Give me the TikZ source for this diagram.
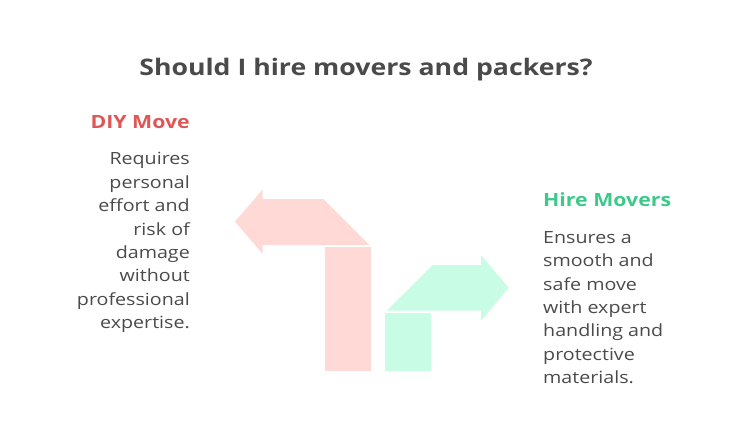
\documentclass[tikz,border=0pt]{standalone}
\usepackage{fontspec}
\setmainfont{Open Sans}[FakeStretch=1.17]
\definecolor{redfill}{HTML}{FFD9D6}
\definecolor{greenfill}{HTML}{C8FCE4}
\definecolor{txt}{HTML}{4A4A4A}
\definecolor{redtxt}{HTML}{E05555}
\definecolor{greentxt}{HTML}{3DC98A}
\begin{document}
\begin{tikzpicture}[x=1pt,y=-1pt,
  body/.style={text=txt,font=\fontsize{16.8}{23.4}\selectfont,inner sep=0pt},
  head/.style={font=\fontsize{18.2}{22}\selectfont\bfseries,inner sep=0pt}]
\useasboundingbox (0,0) rectangle (732,423);
% red arrow
\fill[redfill] (235,221.7) -- (262.7,189.3) -- (262.7,199) -- (323.3,199) -- (369.3,245) -- (262.7,245) -- (262.7,254) -- cycle;
\fill[redfill] (325,246.7) rectangle (371,370.7);
% green arrow
\fill[greenfill] (386.7,310.7) -- (432.7,265) -- (481,265) -- (481,255) -- (508.7,287.8) -- (481,320.7) -- (481,310.7) -- cycle;
\fill[greenfill] (385,312.7) rectangle (431,370.7);
% texts
\node[text=txt,font=\fontsize{22.8}{28}\selectfont\bfseries,inner sep=0pt,anchor=base] (title) at (366,75) {Should I hire movers and packers?};
\node[head,text=redtxt,anchor=base east] (diy) at (190,128.3) {DIY Move};
\node[body,anchor=base east,align=right] (diyt) at (190,328.6) {Requires\\personal\\effort and\\risk of\\damage\\without\\professional\\expertise.};
\node[head,text=greentxt,anchor=base west] (hire) at (543,206.7) {Hire Movers};
\node[body,anchor=base west,align=left] (hiret) at (543,383.7) {Ensures a\\smooth and\\safe move\\with expert\\handling and\\protective\\materials.};
\end{tikzpicture}
\end{document}
